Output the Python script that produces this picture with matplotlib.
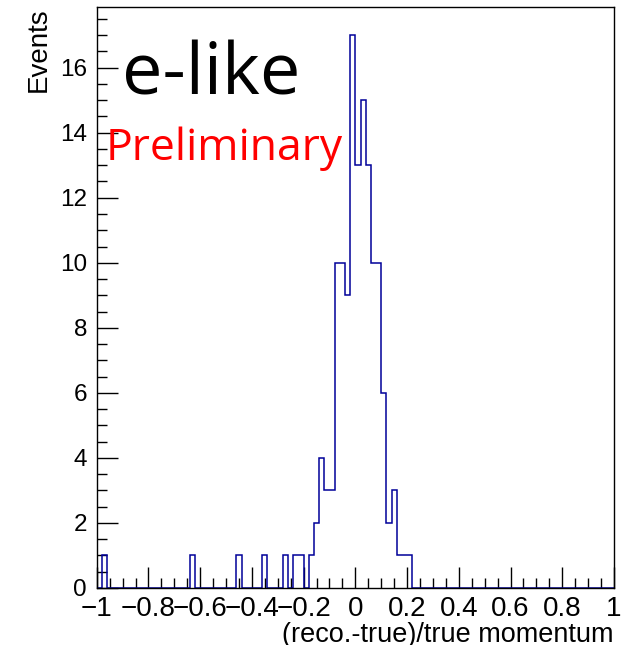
import matplotlib.pyplot as plt
import numpy as np
from matplotlib.ticker import MultipleLocator

# データ（ビン中心とイベント数、幅0.02のビン100個）
bin_centers = [-0.97, -0.63, -0.45, -0.35, -0.27, -0.23, -0.21,
               -0.17, -0.15, -0.13, -0.11, -0.09, -0.07, -0.05, -0.03, -0.01,
               0.01, 0.03, 0.05, 0.07, 0.09, 0.11, 0.13, 0.15, 0.17, 0.19, 0.21]
counts = [1, 1, 1, 1, 1, 1, 1,
          1, 2, 4, 3, 3, 10, 10, 9, 17,
          13, 15, 13, 10, 10, 6, 2, 3, 1, 1, 1]
x_ticks = [-1, -0.8, -0.6, -0.4, -0.2, 0, 0.2, 0.4, 0.6, 0.8, 1]
x_tick_labels = ["\u22121", "\u22120.8", "\u22120.6", "\u22120.4", "\u22120.2",
                 "0", "0.2", "0.4", "0.6", "0.8", "1"]
y_ticks = [0, 2, 4, 6, 8, 10, 12, 14, 16]

plt.rcParams['font.family'] = ['Liberation Sans', 'DejaVu Sans']

fig = plt.figure(figsize=(6.28, 6.45), dpi=100)
ax = fig.add_axes([0.154, 0.0884, 0.8237, 0.9])

ax.hist(bin_centers, bins=100, range=(-1, 1), weights=counts,
        histtype='step', color='#000099', linewidth=1.1)

ax.set_xlim(-1, 1)
ax.set_ylim(0, 17.85)

ax.set_xticks(x_ticks)
ax.set_xticklabels(x_tick_labels)
ax.set_yticks(y_ticks)
ax.xaxis.set_minor_locator(MultipleLocator(0.05))
ax.yaxis.set_minor_locator(MultipleLocator(0.5))
ax.tick_params(axis='both', which='both', direction='in', top=False, right=False,
               width=1)
ax.tick_params(axis='x', which='major', length=15, pad=6, labelsize=20)
ax.tick_params(axis='x', which='minor', length=7.5)
ax.tick_params(axis='y', which='major', length=15, pad=7, labelsize=17.5)
ax.tick_params(axis='y', which='minor', length=7.5)
for s in ax.spines.values():
    s.set_linewidth(1)

ax.set_xlabel("(reco.-true)/true momentum", loc='right', fontsize=19.5, labelpad=0)
ax.set_ylabel("Events", loc='top', fontsize=20, labelpad=6)

# 注釈テキスト
ax.text(0.048, 0.85, "e-like", transform=ax.transAxes, fontsize=52,
        family=['Open Sans', 'DejaVu Sans'], color='black')
ax.text(0.017, 0.738, "Preliminary", transform=ax.transAxes, fontsize=32,
        family=['Open Sans', 'DejaVu Sans'], color='red')

fig.savefig("out.png", dpi=100)
